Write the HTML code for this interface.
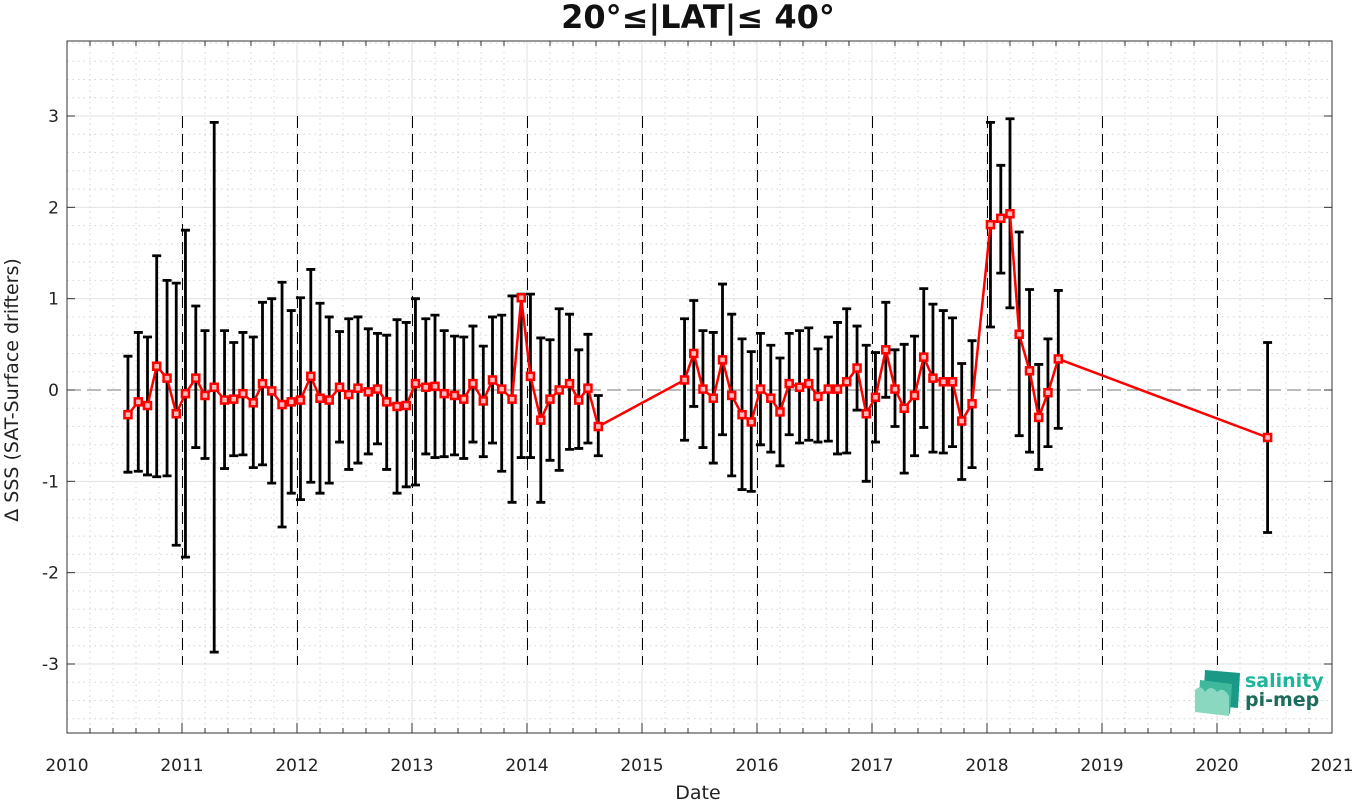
<!DOCTYPE html>
<html><head><meta charset="utf-8"><style>
body{margin:0;background:#fff;font-family:"Liberation Sans","DejaVu Sans",sans-serif}
svg text{font-family:"DejaVu Sans","Liberation Sans",sans-serif}
</style></head><body>
<svg id="chart" width="1355" height="801" xmlns="http://www.w3.org/2000/svg">
<g id="grid"></g>
<g id="axes"></g>
<g id="bars"></g>
<g id="series"></g>
<text x="698" y="28" text-anchor="middle" font-size="32" font-weight="bold" fill="#111">20°≤|LAT|≤ 40°</text>
<text x="698" y="799" text-anchor="middle" font-size="19" fill="#222">Date</text>
<text x="0" y="0" transform="translate(18,390) rotate(-90)" text-anchor="middle" font-size="19" fill="#222">Δ SSS (SAT-Surface drifters)</text>
<g>
<polygon points="1205,670 1240,673 1238,708 1203,705" fill="#1a9a86"/>
<polygon points="1200,680 1232,684 1230,714 1198,710" fill="#3fb89c"/>
<path d="M1195,690 q6,-6 10,2 q6,-8 12,0 q6,-6 12,4 l0,20 l-34,-4z" fill="#8ad8bf"/>
<text x="1245" y="687" font-size="19" font-weight="bold" fill="#1fb59a">salinity</text>
<text x="1245" y="706" font-size="19" font-weight="bold" fill="#1d6b5c">pi-mep</text>
</g>
</svg>
<script>
const dates=[2010.53,2010.62,2010.70,2010.78,2010.87,2010.95,
2011.03,2011.12,2011.20,2011.28,2011.37,2011.45,2011.53,2011.62,2011.70,2011.78,2011.87,2011.95,
2012.03,2012.12,2012.20,2012.28,2012.37,2012.45,2012.53,2012.62,2012.70,2012.78,2012.87,2012.95,
2013.03,2013.12,2013.20,2013.28,2013.37,2013.45,2013.53,2013.62,2013.70,2013.78,2013.87,2013.95,
2014.03,2014.12,2014.20,2014.28,2014.37,2014.45,2014.53,2014.62,
2015.37,2015.45,2015.53,2015.62,2015.70,2015.78,2015.87,2015.95,
2016.03,2016.12,2016.20,2016.28,2016.37,2016.45,2016.53,2016.62,2016.70,2016.78,2016.87,2016.95,
2017.03,2017.12,2017.20,2017.28,2017.37,2017.45,2017.53,2017.62,2017.70,2017.78,2017.87,
2018.03,2018.12,2018.20,2018.28,2018.37,2018.45,2018.53,2018.62,2020.44];
const means=[-0.27,-0.13,-0.17,0.26,0.13,-0.26,-0.04,0.13,-0.06,0.03,-0.11,-0.1,-0.04,-0.14,0.07,-0.01,-0.16,-0.13,-0.11,0.15,-0.09,-0.11,0.03,-0.05,0.02,-0.02,0.01,-0.13,-0.18,-0.17,0.07,0.03,0.04,-0.04,-0.06,-0.1,0.07,-0.12,0.11,0.01,-0.1,1.01,0.15,-0.33,-0.1,0.0,0.07,-0.11,0.02,-0.4,
0.11,0.40,0.01,-0.09,0.33,-0.06,-0.27,-0.35,0.01,-0.09,-0.24,0.07,0.03,0.07,-0.07,0.01,0.01,0.09,0.24,-0.26,-0.08,0.44,0.01,-0.20,-0.06,0.36,0.13,0.09,0.09,-0.34,-0.15,1.81,1.88,1.93,0.61,0.21,-0.30,-0.03,0.34,-0.52];
const highs=[0.37,0.63,0.58,1.47,1.2,1.17,1.75,0.92,0.65,2.93,0.65,0.52,0.63,0.58,0.96,1.0,1.18,0.87,1.01,1.32,0.95,0.8,0.64,0.78,0.8,0.67,0.62,0.6,0.77,0.74,1.0,0.78,0.82,0.65,0.59,0.58,0.7,0.48,0.8,0.82,1.03,1.05,1.05,0.57,0.55,0.89,0.83,0.44,0.61,-0.06,
0.78,0.98,0.65,0.63,1.16,0.83,0.56,0.42,0.62,0.49,0.35,0.62,0.65,0.68,0.45,0.58,0.74,0.89,0.70,0.49,0.41,0.96,0.44,0.50,0.59,1.11,0.94,0.87,0.79,0.29,0.54,2.93,2.46,2.97,1.73,1.10,0.28,0.56,1.09,0.52];
const lows=[-0.9,-0.89,-0.93,-0.95,-0.94,-1.7,-1.83,-0.63,-0.75,-2.87,-0.86,-0.72,-0.71,-0.85,-0.82,-1.02,-1.5,-1.13,-1.2,-1.01,-1.13,-1.02,-0.57,-0.87,-0.8,-0.7,-0.59,-0.87,-1.13,-1.06,-1.04,-0.7,-0.74,-0.73,-0.71,-0.75,-0.57,-0.73,-0.58,-0.89,-1.23,-0.74,-0.74,-1.23,-0.77,-0.88,-0.65,-0.64,-0.58,-0.72,
-0.55,-0.18,-0.63,-0.80,-0.49,-0.94,-1.09,-1.11,-0.60,-0.68,-0.83,-0.49,-0.58,-0.55,-0.57,-0.56,-0.70,-0.69,-0.22,-1.0,-0.57,-0.08,-0.40,-0.91,-0.72,-0.41,-0.68,-0.69,-0.62,-0.98,-0.85,0.69,1.28,0.90,-0.50,-0.68,-0.87,-0.62,-0.42,-1.56];
const xTicks=[2010,2011,2012,2013,2014,2015,2016,2017,2018,2019,2020,2021];
const yTicks=[-3,-2,-1,0,1,2,3];

const NS='http://www.w3.org/2000/svg';
const L=67,R=1332,T=41,B=733;
const x=d=>L+(d-2010)/(2021-2010)*(R-L);
const y=v=>390-v*91.33;
function mk(parent,tag,attrs){const e=document.createElementNS(NS,tag);for(const k in attrs)e.setAttribute(k,attrs[k]);document.getElementById(parent).appendChild(e);return e;}

for(let v=-3.6;v<=3.81;v+=0.2){const vv=Math.round(v*10)/10;if(Math.abs(vv-Math.round(vv))<1e-6)continue;
const g=mk('grid','line',{x1:L,x2:R,y1:y(vv),y2:y(vv),stroke:'#d4d4d4','stroke-width':1,'stroke-dasharray':'1.5 4'});

}
for(let d=2010.2;d<2021;d+=0.2){const dd=Math.round(d*10)/10;if(Math.abs(dd-Math.round(dd))<1e-6)continue;
const g=mk('grid','line',{x1:x(dd),x2:x(dd),y1:T,y2:B,stroke:'#d4d4d4','stroke-width':1,'stroke-dasharray':'1.5 4'});


const t1=mk('axes','line',{x1:x(dd),x2:x(dd),y1:B,y2:B-5,stroke:'#333','stroke-width':1});


const t2=mk('axes','line',{x1:x(dd),x2:x(dd),y1:T,y2:T+5,stroke:'#333','stroke-width':1});

}
yTicks.forEach(v=>{const g=mk('grid','line',{x1:L,x2:R,y1:y(v),y2:y(v),stroke:v===0?'#777':'#e2e2e2','stroke-width':1,'stroke-dasharray':v===0?'14 6':'none'});


const t=mk('axes','text',{x:L-8,y:y(v)+6,'text-anchor':'end','font-size':17,fill:'#222'});t.textContent=v;


const tk=mk('axes','line',{x1:L,x2:L+8,y1:y(v),y2:y(v),stroke:'#333'});


const tk2=mk('axes','line',{x1:R,x2:R-8,y1:y(v),y2:y(v),stroke:'#333'});

});
xTicks.forEach(d=>{const g=mk('grid','line',{x1:x(d),x2:x(d),y1:T,y2:B,stroke:'#e2e2e2','stroke-width':1});


if(d>2010&&d<2021){const px=Math.round(x(d))+0.5;const dl=mk('grid','line',{x1:px,x2:px,y1:116,y2:665,stroke:'#000','stroke-width':1,'stroke-dasharray':'12 6'});

}
const t=mk('axes','text',{x:x(d),y:B+38,'text-anchor':'middle','font-size':17,fill:'#222'});t.textContent=d;


const tk=mk('axes','line',{x1:x(d),x2:x(d),y1:B,y2:B-10,stroke:'#333'});

});
const box=mk('axes','rect',{x:L,y:T,width:R-L,height:B-T,fill:'none',stroke:'#333','stroke-width':1});



dates.forEach((d,i)=>{const cx=x(d);
const b=mk('bars','path',{d:`M${cx},${y(highs[i])}V${y(lows[i])}M${cx-4.5},${y(highs[i])}H${cx+4.5}M${cx-4.5},${y(lows[i])}H${cx+4.5}`,stroke:'#000','stroke-width':2.8,fill:'none'});

});
const line=mk('series','polyline',{points:dates.map((d,i)=>x(d)+','+y(means[i])).join(' '),fill:'none',stroke:'#f00','stroke-width':2.5});


dates.forEach((d,i)=>{const m=mk('series','rect',{x:x(d)-3.5,y:y(means[i])-3.5,width:7,height:7,fill:'#ffbcbc',stroke:'#f00','stroke-width':2.5});

});
</script>
</body></html>
